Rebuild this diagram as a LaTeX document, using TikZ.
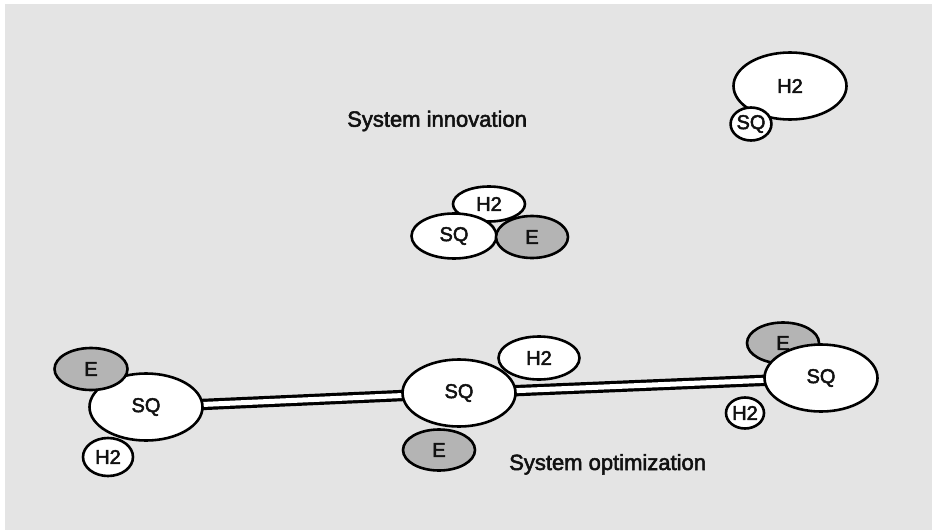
\documentclass[tikz,border=0pt]{standalone}
\usepackage{fontspec}
\setmainfont{Liberation Sans}
\newfontfamily\medfont{Liberation Sans}[FakeBold=2.4]
\usetikzlibrary{shapes.geometric}
\definecolor{bggray}{HTML}{E4E4E4}
\definecolor{efill}{HTML}{B4B4B4}
\definecolor{ink}{HTML}{111111}
\pgfdeclarelayer{bgzero}
\pgfdeclarelayer{bgone}
\pgfsetlayers{bgzero,bgone,main}
\tikzset{
  ell/.style={ellipse, draw=black, line width=2.6pt, fill=white, inner sep=0pt,
    text=ink, font=\medfont\fontsize{20}{24}\selectfont},
  elle/.style={ell, fill=efill},
  caption/.style={anchor=base west, inner sep=0pt, text=ink, font=\medfont\fontsize{22}{26}\selectfont},
  link/.style={line width=3.2pt, double=white, double distance=5pt, draw=black}
}
\begin{document}
\begin{tikzpicture}[x=1pt,y=-1pt]
\useasboundingbox (0,0) rectangle (932,530);
\begin{pgfonlayer}{bgzero}
  \fill[bggray] (5,4) rectangle (932,530);
\end{pgfonlayer}
% top right
\node[ell, minimum width=113pt, minimum height=67pt] (h2TR) at (790,86) {H2};
\node[ell, minimum width=38pt, minimum height=33pt] (sqTR) at (751,124) {SQ};
% centre cluster
\node[ell, minimum width=72pt, minimum height=35pt] (h2C) at (489,204) {H2};
\node[ell, minimum width=85pt, minimum height=45pt] (sqC) at (454,236) {SQ};
\node[elle, minimum width=72pt, minimum height=42pt] (eC) at (532,237) {E};
% left cluster
\node[ell, minimum width=113pt, minimum height=67pt] (sqL) at (146,407) {SQ};
\node[elle, minimum width=73pt, minimum height=42pt] (eL) at (91,369) {E};
\node[ell, minimum width=50pt, minimum height=38pt] (h2L) at (108,457) {H2};
% middle cluster
\node[ell, minimum width=113pt, minimum height=67pt] (sqM) at (459,393) {SQ};
\node[elle, minimum width=72pt, minimum height=41pt] (eM) at (439,450) {E};
\node[ell, minimum width=81pt, minimum height=43pt] (h2M) at (539,358) {H2};
% right cluster
\node[elle, minimum width=72pt, minimum height=41pt] (eR) at (783,343) {E};
\node[ell, minimum width=113pt, minimum height=67pt] (sqR) at (821,378) {SQ};
\node[ell, minimum width=38pt, minimum height=31pt] (h2R) at (745,413) {H2};
% connectors
\begin{pgfonlayer}{bgone}
  \draw[link] (sqL.center) -- (sqM.center);
  \draw[link] (sqM.center) -- (sqR.center);
\end{pgfonlayer}
% captions
\node[caption] (innov) at (347,126.7) {System innovation};
\node[caption] (optim) at (509,470) {System optimization};
\end{tikzpicture}
\end{document}
